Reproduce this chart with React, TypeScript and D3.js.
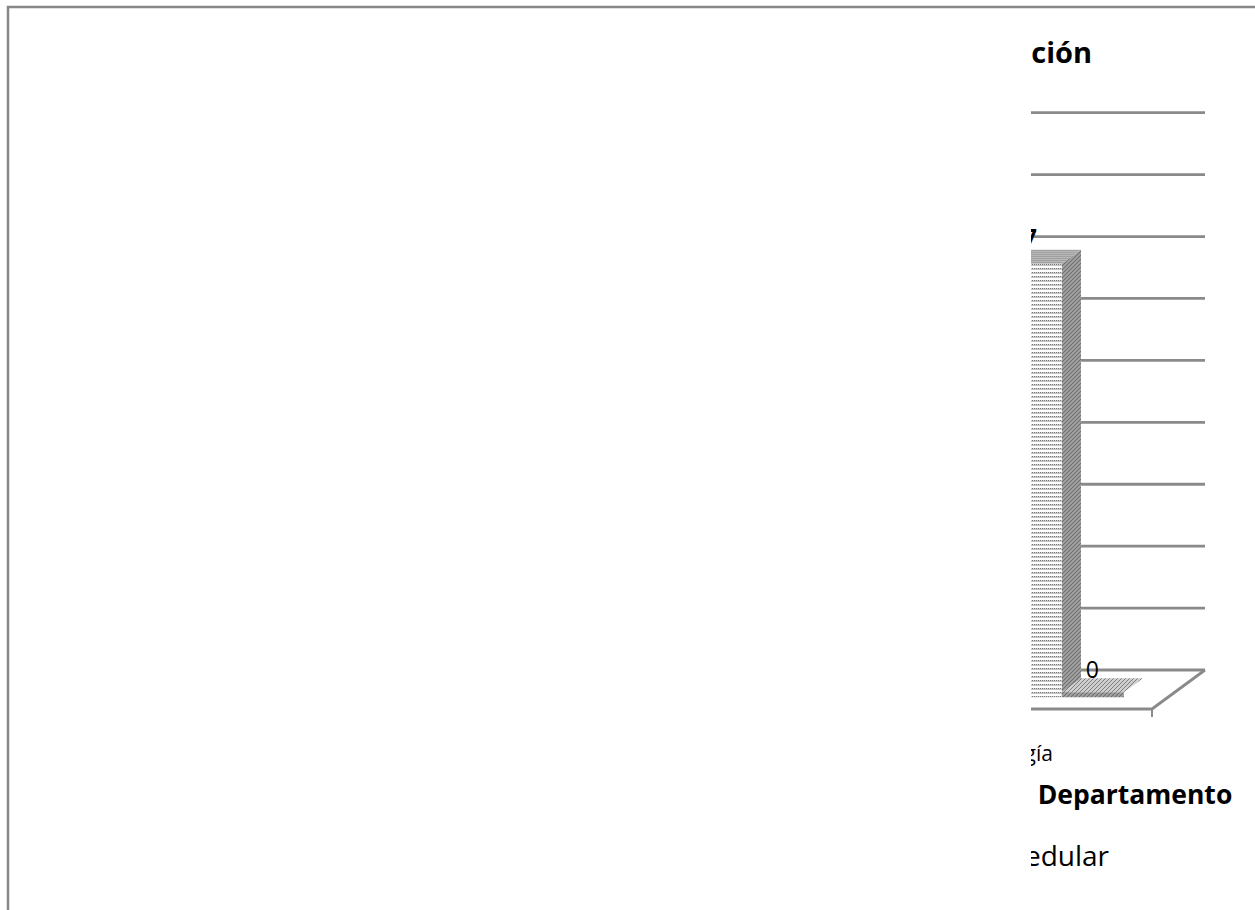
import React from "react";
import * as d3 from "d3";

// ---- data ----
const chartTitle = "Distribución";
const categories = ["Neurología"];
const seriesNames = ["Departamento", "Medular"];
const seriesValues = [7, 0];
const yTicks = [0, 1, 2, 3, 4, 5, 6, 7, 8, 9];
const axisTitle = "Departamento";
const legendLabels = ["Medular"];

const W = 1255;
const H = 910;
const FONT = "'Open Sans', 'DejaVu Sans', sans-serif";
const GRID = "#8a8a8a";

// 3D projection: depth offset from front (z=0) to back (z=1)
const DX = 53;
const DY = 39;

export default function App() {
  const y = d3.scaleLinear().domain([0, 9]).range([670, 112.7]);
  const xCat = d3.scaleBand<string>().domain(categories).range([940, 1152]);
  const gap = 0.71;
  const groupW = xCat.bandwidth() / (1 + gap);
  const catStart = (xCat(categories[0]) ?? 0) + (xCat.bandwidth() - groupW) / 2;
  const xSer = d3.scaleBand<string>().domain(seriesNames).range([catStart, catStart + groupW]);

  const P = (x: number, v: number, z: number): [number, number] => [x + z * DX, y(v) + (1 - z) * DY];
  const pts = (a: [number, number][]) => a.map((p) => p.join(",")).join(" ");

  const z0 = 0.3;
  const z1 = 0.66;
  const x0 = xCat.range()[0];
  const x1 = xCat.range()[1];

  const catCenter = (xCat(categories[0]) ?? 0) + xCat.bandwidth() / 2;

  return (
    <svg width={W} height={H} style={{ position: "absolute", left: 0, top: 0, display: "block", background: "#fff" }}>
      <defs>
        <clipPath id="vis">
          <rect x={1031} y={0} width={W - 1031} height={H} />
        </clipPath>
        <pattern id="front" width={2} height={4} patternUnits="userSpaceOnUse">
          <rect width={2} height={4} fill="#ffffff" />
          <rect x={0} y={0} width={1} height={1} fill="#7a7a7a" />
          <rect x={1} y={0} width={1} height={1} fill="#d4d4d4" />
          <rect x={0} y={1} width={2} height={1} fill="#c4c4c4" />
        </pattern>
        <pattern id="side" width={4} height={4} patternUnits="userSpaceOnUse">
          <rect width={4} height={4} fill="#a6a6a6" />
          <path d="M0,4 L4,0 M-1,1 L1,-1 M3,5 L5,3" stroke="#6e6e6e" strokeWidth={1.2} />
        </pattern>
        <pattern id="sideLight" width={4} height={4} patternUnits="userSpaceOnUse">
          <rect width={4} height={4} fill="#cfcfcf" />
          <path d="M0,4 L4,0 M-1,1 L1,-1 M3,5 L5,3" stroke="#7e7e7e" strokeWidth={1} />
        </pattern>
        <pattern id="top" width={4} height={2} patternUnits="userSpaceOnUse">
          <rect width={4} height={2} fill="#b8b8b8" />
          <rect y={0} width={4} height={1} fill="#a0a0a0" />
        </pattern>
      </defs>

      {/* outer frame */}
      <rect x={8} y={7} width={W + 20} height={H + 20} fill="none" stroke="#878787" strokeWidth={2.5} />

      <g clipPath="url(#vis)">
        {/* title */}
        <text x={1092} y={63} textAnchor="end" fontFamily={FONT} fontWeight={700} fontSize={29} fill="#000">
          {chartTitle}
        </text>

        {/* back wall gridlines */}
        {yTicks.map((t) => {
          const a = P(x0, t, 1);
          const b = P(x1, t, 1);
          return <line key={t} x1={a[0]} y1={a[1]} x2={b[0]} y2={b[1]} stroke={GRID} strokeWidth={2.8} />;
        })}

        {/* floor */}
        <polyline
          points={pts([P(x0, 0, 0), P(x1, 0, 0), P(x1, 0, 1)])}
          fill="none"
          stroke={GRID}
          strokeWidth={2.8}
        />
        <line x1={x1} y1={P(x1, 0, 0)[1]} x2={x1} y2={P(x1, 0, 0)[1] + 8} stroke={GRID} strokeWidth={2} />

        {/* bars */}
        {seriesNames.map((s, i) => {
          const v = seriesValues[i];
          const a = xSer(s) ?? 0;
          const b = a + xSer.bandwidth();
          const mid = (a + b) / 2;
          const lp = P(mid, v, (z0 + z1) / 2);
          if (v > 0) {
            return (
              <g key={s}>
                <polygon points={pts([P(a, 0, z0), P(b, 0, z0), P(b, v, z0), P(a, v, z0)])} fill="url(#front)" />
                <polygon points={pts([P(b, 0, z0), P(b, 0, z1), P(b, v, z1), P(b, v, z0)])} fill="url(#side)" />
                <polygon points={pts([P(a, v, z0), P(b, v, z0), P(b, v, z1), P(a, v, z1)])} fill="url(#top)" />
                <text x={lp[0] - 10} y={lp[1] - 11} textAnchor="middle" fontFamily={FONT} fontWeight={700} fontSize={23} fill="#000">
                  {v}
                </text>
              </g>
            );
          }
          const th = 5;
          const f0 = P(a, 0, z0);
          const f1 = P(b, 0, z0);
          const tp = [P(a, 0, z0), P(b, 0, z0), P(b, 0, z1), P(a, 0, z1)].map(
            (p) => [p[0], p[1] - th] as [number, number]
          );
          return (
            <g key={s}>
              <polygon points={pts(tp)} fill="url(#sideLight)" />
              <polygon
                points={pts([[f0[0], f0[1] - th], [f1[0], f1[1] - th], f1, f0])}
                fill="url(#side)"
              />
              <text x={lp[0] - 10} y={lp[1] - 12} textAnchor="middle" fontFamily={FONT} fontSize={23} fill="#000">
                {v}
              </text>
            </g>
          );
        })}

        {/* category label */}
        {categories.map((c) => (
          <text key={c} x={catCenter + 7} y={761} textAnchor="end" fontFamily={FONT} fontSize={21} fill="#000">
            {c}
          </text>
        ))}

        {/* axis title */}
        <text x={1135} y={804} textAnchor="middle" fontFamily={FONT} fontWeight={700} fontSize={26.5} fill="#000">
          {axisTitle}
        </text>

        {/* legend */}
        {legendLabels.map((l, i) => (
          <text key={l} x={1109} y={866 + i * 30} textAnchor="end" fontFamily={FONT} fontSize={28} fill="#000">
            {l}
          </text>
        ))}
      </g>
    </svg>
  );
}
